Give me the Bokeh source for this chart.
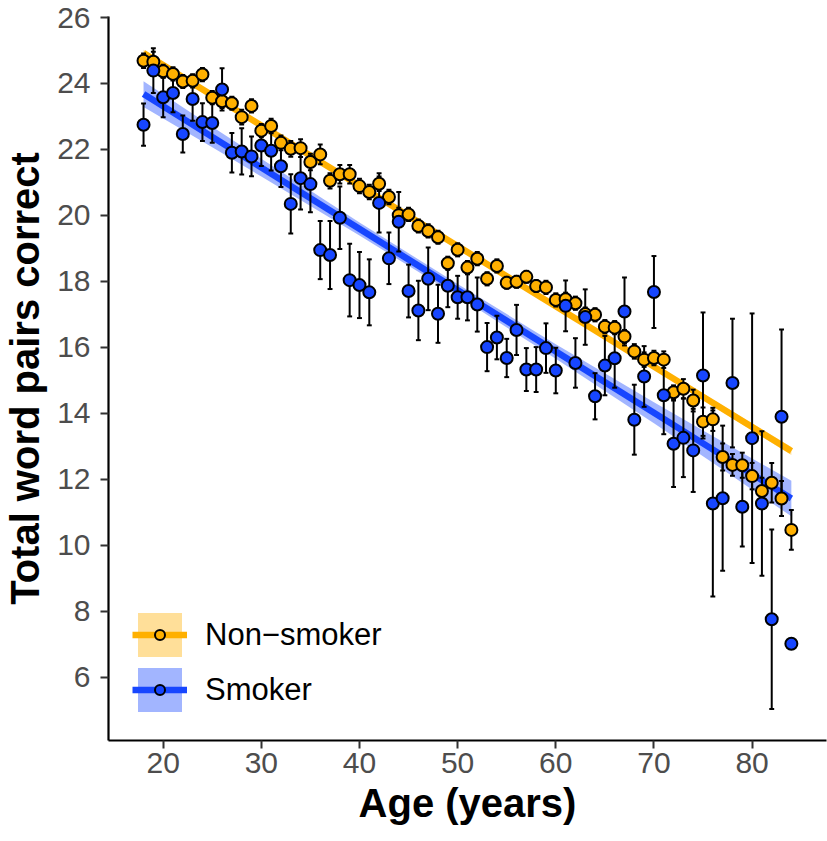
import numpy as np
from bokeh.plotting import figure
from bokeh.models import Range1d, FixedTicker, Legend, LegendItem
from bokeh.embed import file_html
from bokeh.resources import INLINE

# ---------------- data ----------------
ages = list(range(18, 85))

nonsmoker_mean = [24.69, 24.66, 24.37, 24.29, 24.06, 24.08, 24.27, 23.57, 23.46, 23.40,
                  22.98, 23.32, 22.57, 22.71, 22.20, 22.02, 22.04, 21.62, 21.85, 21.05,
                  21.25, 21.25, 20.89, 20.71, 20.96, 20.56, 20.01, 20.03, 19.68, 19.53,
                  19.34, 18.55, 18.96, 18.42, 18.69, 18.08, 18.47, 17.96, 17.99, 18.14,
                  17.86, 17.82, 17.44, 17.46, 17.34, 17.01, 16.99, 16.63, 16.60, 16.33,
                  15.88, 15.63, 15.68, 15.63, 14.64, 14.75, 14.39, 13.75, 13.82, 12.68,
                  12.44, 12.43, 12.10, 11.65, 11.90, 11.42, 10.47]
nonsmoker_err = [0.22, 0.30, 0.20, 0.20, 0.20, 0.20, 0.20, 0.20, 0.20, 0.20,
                 0.22, 0.20, 0.20, 0.22, 0.22, 0.24, 0.27, 0.25, 0.30, 0.23,
                 0.28, 0.28, 0.22, 0.22, 0.22, 0.22, 0.22, 0.20, 0.20, 0.20,
                 0.20, 0.20, 0.20, 0.20, 0.20, 0.20, 0.20, 0.18, 0.18, 0.18,
                 0.18, 0.20, 0.20, 0.20, 0.20, 0.20, 0.20, 0.20, 0.20, 0.20,
                 0.22, 0.22, 0.22, 0.25, 0.21, 0.29, 0.33, 0.43, 0.35, 0.41,
                 0.33, 0.38, 0.40, 0.40, 0.60, 0.53, 0.60]

smoker_mean = [22.75, 24.39, 23.58, 23.71, 22.47, 23.53, 22.83, 22.80, 23.82, 21.90,
               21.94, 21.79, 22.12, 21.96, 21.49, 20.35, 21.13, 20.95, 18.95, 18.80,
               19.93, 18.04, 17.89, 17.67, 20.38, 18.70, 19.81, 17.71, 17.12, 18.08,
               17.02, 17.87, 17.52, 17.52, 17.30, 16.01, 16.30, 15.68, 16.53, 15.33,
               15.33, 15.98, 15.30, 17.26, 15.53, 16.92, 14.52, 15.45, 15.67, 17.09,
               13.81, 15.12, 17.68, 14.55, 13.08, 13.26, 12.88, 15.15, 11.27, 11.43,
               14.92, 11.17, 13.25, 11.27, 7.76, 13.90, 7.02]
smoker_err = [0.64, 0.68, 0.60, 0.58, 0.56, 0.66, 0.57, 0.60, 0.64, 0.60,
              0.70, 0.60, 0.62, 0.60, 0.63, 0.90, 0.95, 0.85, 0.88, 1.03,
              0.95, 1.10, 1.00, 1.00, 0.90, 0.78, 0.90, 0.80, 0.90, 0.95,
              0.88, 0.65, 0.65, 0.70, 0.82, 0.73, 0.66, 0.58, 0.76, 0.65,
              0.68, 0.75, 0.69, 0.77, 0.75, 0.84, 0.70, 0.90, 0.89, 1.03,
              1.06, 0.92, 1.09, 1.18, 1.31, 1.19, 1.26, 1.91, 2.82, 2.20,
              1.95, 1.20, 3.78, 2.19, 2.72, 2.64, 0.00]

# fitted linear trends (end points) and confidence bands
fit_age = [18, 84]
nonsmoker_fit = [24.92, 12.86]
smoker_fit = [23.68, 11.42]

nonsmoker_ci_age = [18, 30, 40, 50, 60, 70, 84]
nonsmoker_ci_lo = [24.82, 22.66, 20.85, 19.02, 17.19, 15.34, 12.74]
nonsmoker_ci_hi = [25.02, 22.80, 20.95, 19.12, 17.31, 15.50, 12.98]

smoker_ci_age = [18, 25, 30, 40, 50, 60, 70, 77, 84]
smoker_ci_lo = [23.29, 22.07, 21.18, 19.39, 17.56, 15.66, 13.70, 12.30, 10.88]
smoker_ci_hi = [24.07, 22.69, 21.72, 19.79, 17.92, 16.10, 14.34, 13.14, 11.96]

group_labels = ["Non\u2212smoker", "Smoker"]
x_ticks = [20, 30, 40, 50, 60, 70, 80]
y_ticks = [6, 8, 10, 12, 14, 16, 18, 20, 22, 24, 26]

ORANGE = "#FFB000"
BLUE = "#1746FF"
FONT = "Liberation Sans"

# ---------------- figure ----------------
p = figure(width=827, height=841, output_backend="svg", toolbar_location=None,
           x_range=Range1d(14.43, 87.58), y_range=Range1d(4.087, 26.03),
           min_border_left=104, min_border_right=1, min_border_top=16,
           min_border_bottom=101)
p.outline_line_color = None
p.xgrid.grid_line_color = None
p.ygrid.grid_line_color = None
p.background_fill_color = "white"

a = np.array(ages, dtype=float)
ns_m = np.array(nonsmoker_mean)
ns_e = np.array(nonsmoker_err)
sm_m = np.array(smoker_mean)
sm_e = np.array(smoker_err)

# ribbons and trend lines
rib_n = p.varea(x=nonsmoker_ci_age, y1=nonsmoker_ci_lo, y2=nonsmoker_ci_hi,
                fill_color=ORANGE, fill_alpha=0.4)
rib_s = p.varea(x=smoker_ci_age, y1=smoker_ci_lo, y2=smoker_ci_hi,
                fill_color=BLUE, fill_alpha=0.4)
line_n = p.line(fit_age, nonsmoker_fit, line_color=ORANGE, line_width=6.5)
line_s = p.line(fit_age, smoker_fit, line_color=BLUE, line_width=6.5)

# error bars
cap = 0.25
for m, e in ((ns_m, ns_e), (sm_m, sm_e)):
    p.segment(x0=a, y0=m - e, x1=a, y1=m + e, line_color="black", line_width=2)
    p.segment(x0=a - cap, y0=m + e, x1=a + cap, y1=m + e, line_color="black", line_width=2)
    p.segment(x0=a - cap, y0=m - e, x1=a + cap, y1=m - e, line_color="black", line_width=2)

# points
pts_n = p.scatter(a, ns_m, size=12, fill_color=ORANGE, line_color="black", line_width=2)
pts_s = p.scatter(a, sm_m, size=12, fill_color=BLUE, line_color="black", line_width=2)

# ---------------- axes ----------------
p.xaxis.ticker = FixedTicker(ticks=x_ticks)
p.yaxis.ticker = FixedTicker(ticks=y_ticks)
p.xaxis.axis_label = "Age (years)"
p.yaxis.axis_label = "Total word pairs correct"
for ax in (p.xaxis, p.yaxis):
    ax.axis_line_color = "black"
    ax.axis_line_width = 2.2
    ax.major_tick_line_color = "#333333"
    ax.major_tick_line_width = 2
    ax.major_tick_out = 8
    ax.major_tick_in = 0
    ax.minor_tick_out = 0
    ax.minor_tick_in = 0
    ax.major_label_text_font = FONT
    ax.major_label_text_font_size = "30px"
    ax.major_label_text_color = "#4D4D4D"
    ax.axis_label_text_font = FONT
    ax.axis_label_text_font_size = "40px"
    ax.axis_label_text_font_style = "bold"
    ax.axis_label_text_color = "black"
p.xaxis.major_label_standoff = 4
p.xaxis.axis_label_standoff = 5
p.yaxis.major_label_standoff = 10
p.yaxis.axis_label_standoff = 7

# ---------------- legend ----------------
leg1 = Legend(items=[LegendItem(label=group_labels[0], renderers=[rib_n, line_n]),
                     LegendItem(label=group_labels[1], renderers=[rib_s, line_s])],
              location=(24, 23), glyph_width=55, glyph_height=55, spacing=0,
              padding=0, margin=0, label_standoff=18,
              label_text_font=FONT, label_text_font_size="31px",
              label_text_color="black",
              background_fill_alpha=0, border_line_alpha=0)
p.add_layout(leg1)
leg2 = Legend(items=[LegendItem(label=" ", renderers=[pts_n]),
                     LegendItem(label=" ", renderers=[pts_s])],
              location=(39, 38), glyph_width=25, glyph_height=25, spacing=30,
              padding=0, margin=0, label_standoff=0, label_width=0, label_height=0,
              label_text_font_size="1px",
              background_fill_alpha=0, border_line_alpha=0)
p.add_layout(leg2)

open("out.html", "w").write(file_html(p, INLINE))
